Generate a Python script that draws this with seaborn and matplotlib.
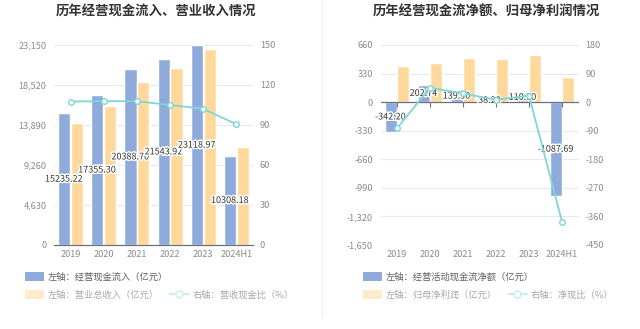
import numpy as np
import pandas as pd
import matplotlib
matplotlib.use("Agg")
import matplotlib.pyplot as plt
import matplotlib.patheffects as pe
from matplotlib.patches import Patch
from matplotlib.lines import Line2D
from matplotlib.ticker import FuncFormatter
import seaborn as sns

# ---------------- data ----------------
years = ["2019", "2020", "2021", "2022", "2023", "2024H1"]
cash_inflow = [15235.22, 17355.30, 20388.70, 21543.92, 23118.97, 10308.18]
revenue = [14160, 16090, 18900, 20530, 22650, 11380]
cash_ratio = [107.6, 107.9, 107.8, 105.0, 102.1, 90.6]

op_cashflow = [-342.20, 202.74, 139.90, 38.20, 110.90, -1087.69]
net_profit = [416, 447, 512, 504, 539, 289]
net_ratio = [-82.3, 45.4, 27.3, 7.6, 20.6, -376.4]

left_ticks = [0, 4630, 9260, 13890, 18520, 23150]
left_rticks = [0, 30, 60, 90, 120, 150]
right_ticks = [-1650, -1320, -990, -660, -330, 0, 330, 660]
right_rticks = [-450, -360, -270, -180, -90, 0, 90, 180]

title1 = "历年经营现金流入、营业收入情况"
title2 = "历年经营现金流净额、归母净利润情况"
leg1 = ["左轴：经营现金流入（亿元）", "左轴：营业总收入（亿元）", "右轴：营收现金比（%）"]
leg2 = ["左轴：经营活动现金流净额（亿元）", "左轴：归母净利润（亿元）", "右轴：净现比（%）"]

# ---------------- style ----------------
sns.set_theme(style="white")
plt.rcParams["font.family"] = ["Noto Sans CJK SC", "DejaVu Sans"]
plt.rcParams["axes.unicode_minus"] = False

BLUE = "#8eabdb"
ORANGE = "#ffd99b"
ORANGE_LEG = "#fdebcb"
TEAL = "#7fd5d8"
GRID = "#e6e9f1"
TICK = "#8c8c8c"
AXIS = "#6e7079"

fig = plt.figure(figsize=(6.4, 3.29), dpi=100)
fig.patch.set_facecolor("white")

ax_l = fig.add_axes([54 / 640, 84 / 329, 199 / 640, 200 / 329])
ax_r = fig.add_axes([380.5 / 640, 84 / 329, 198 / 640, 200 / 329])

fmt = FuncFormatter(lambda v, p: f"{int(round(v)):,}")


def draw_panel(ax, s1, s2, ratio, names, lticks, rticks, zero_axis):
    df = pd.DataFrame({
        "year": years * 2,
        "value": list(s1) + list(s2),
        "series": [names[0]] * len(years) + [names[1]] * len(years),
    })
    sns.barplot(data=df, x="year", y="value", hue="series", order=years,
                palette=[BLUE, ORANGE], saturation=1, width=0.78, gap=0.06,
                legend=False, ax=ax, zorder=2)
    ax.set_ylim(lticks[0], lticks[-1])
    ax.set_yticks(lticks)
    ax.yaxis.set_major_formatter(fmt)
    ax.set_xlim(-0.5, len(years) - 0.5)
    ax.set_xlabel("")
    ax.set_ylabel("")
    ax.grid(axis="y", color=GRID, lw=0.8, zorder=0)
    ax.set_axisbelow(True)
    for sp in ["top", "left", "right"]:
        ax.spines[sp].set_visible(False)
    ax.tick_params(axis="y", length=0, pad=5.5, labelsize=6.6, labelcolor=TICK)
    ax.tick_params(axis="x", length=0, pad=3.5, labelsize=6.6, labelcolor=TICK)
    if zero_axis:
        ax.spines["bottom"].set_visible(False)
        ax.axhline(0, color=AXIS, lw=0.9, zorder=3)
        trans = ax.get_xaxis_transform()
        z = (0 - lticks[0]) / (lticks[-1] - lticks[0])
        ax.vlines(np.arange(len(years)), z - 0.022, z, transform=trans,
                  color=AXIS, lw=0.8, zorder=3)
    else:
        ax.spines["bottom"].set_color(AXIS)
        ax.spines["bottom"].set_linewidth(0.9)

    # labels at middle of first-series bars
    for bar, v in zip(ax.containers[0], s1):
        cx = bar.get_x() + bar.get_width() / 2
        cy = bar.get_y() + bar.get_height() / 2
        ax.text(cx, cy, f"{v:.2f}", ha="center", va="center", fontsize=6.5,
                color="#333333", zorder=5,
                path_effects=[pe.withStroke(linewidth=2.2, foreground="white")])

    tw = ax.twinx()
    sns.lineplot(x=np.arange(len(years)), y=ratio, ax=tw, color=TEAL, lw=1.3,
                 marker="o", markersize=4, markerfacecolor="white",
                 markeredgecolor=TEAL, markeredgewidth=1.0, zorder=6)
    tw.set_ylim(rticks[0], rticks[-1])
    tw.set_yticks(rticks)
    tw.set_xlim(-0.5, len(years) - 0.5)
    tw.grid(False)
    for sp in tw.spines.values():
        sp.set_visible(False)
    tw.tick_params(axis="y", length=0, pad=5, labelsize=6.6, labelcolor=TICK)
    return tw


draw_panel(ax_l, cash_inflow, revenue, cash_ratio, leg1, left_ticks, left_rticks, False)
draw_panel(ax_r, op_cashflow, net_profit, net_ratio, leg2, right_ticks, right_rticks, True)

# titles
fig.text(156 / 640, 1 - 12 / 329, title1, ha="center", va="center",
         fontsize=9.6, fontweight="bold", color="#333333")
fig.text(486 / 640, 1 - 12 / 329, title2, ha="center", va="center",
         fontsize=9.6, fontweight="bold", color="#333333")

# divider
fig.add_artist(Line2D([322 / 640, 322 / 640], [1, 13 / 329], color="#efefef", lw=0.8))


def make_legends(x0, labels):
    h1 = [Patch(facecolor=BLUE, edgecolor="none")]
    l1 = fig.legend(h1, [labels[0]], loc="center left",
                    bbox_to_anchor=(x0, 1 - 277 / 329), frameon=False,
                    fontsize=6.7, handlelength=2.0, handleheight=1.1,
                    handletextpad=0.45, borderpad=0, borderaxespad=0)
    for t in l1.get_texts():
        t.set_color("#606060")
    h2 = [Patch(facecolor=ORANGE_LEG, edgecolor="none"),
          Line2D([0], [0], color="#c9ecee", lw=1.3, marker="o", markersize=5,
                 markerfacecolor="white", markeredgecolor="#c9ecee")]
    l2 = fig.legend(h2, labels[1:], loc="center left", ncol=2,
                    bbox_to_anchor=(x0, 1 - 295 / 329), frameon=False,
                    fontsize=6.7, handlelength=2.0, handleheight=1.1,
                    handletextpad=0.45, columnspacing=1.2, borderpad=0,
                    borderaxespad=0)
    for t in l2.get_texts():
        t.set_color("#a8a8a8")


make_legends(25 / 640, leg1)
make_legends(363 / 640, leg2)

fig.savefig("out.png", dpi=100, facecolor="white")
